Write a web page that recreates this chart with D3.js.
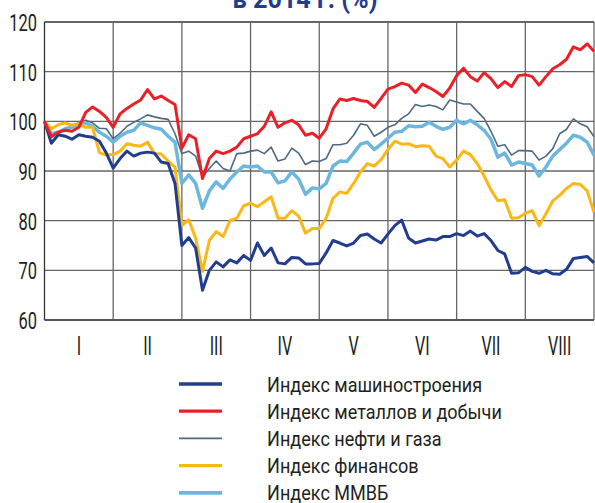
<!DOCTYPE html>
<html>
<head>
<meta charset="utf-8">
<script src="https://cdn.jsdelivr.net/npm/d3@7"></script>
<style>
  html, body { margin: 0; padding: 0; background: #fff; }
  svg { display: block; }
  text { font-family: Roboto, "Liberation Sans", sans-serif; }
</style>
</head>
<body>
<svg id="chart" width="595" height="503"></svg>
<script>
// months I..VIII, values sampled every 0.1 month (index = 100 at start of year)
const months = ["I", "II", "III", "IV", "V", "VI", "VII", "VIII"];
const yTicks = [60, 70, 80, 90, 100, 110, 120];
const STEP = 0.1;

const machine = [100, 95.6, 97.3, 97.0, 96.4, 97.3, 97.0, 96.8, 96.0, 93.6,
  90.6, 92.5, 94.0, 93.0, 93.6, 93.8, 93.6, 91.8, 91.5, 87.5,
  75.0, 76.6, 74.5, 66.0, 70.0, 71.7, 70.7, 72.1, 71.5, 73.0,
  72.0, 75.5, 73.0, 74.5, 71.5, 71.3, 72.6, 72.5, 71.3, 71.3,
  71.4, 73.5, 76.0, 75.5, 74.9, 75.5, 77.0, 77.3, 76.3, 75.5,
  77.3, 79.0, 80.1, 76.5, 75.5, 75.9, 76.3, 76.1, 76.8, 76.8,
  77.4, 77.0, 77.9, 76.9, 77.4, 76.0, 74.0, 73.3, 69.4, 69.5,
  70.6, 69.8, 69.4, 70.0, 69.3, 69.2, 70.2, 72.4, 72.6, 72.8, 71.5];

const metals = [100, 96.9, 97.8, 98.2, 98.0, 98.8, 101.8, 102.9, 102.0, 100.8,
  98.8, 101.5, 102.6, 103.5, 104.3, 106.4, 104.5, 105.1, 104.2, 103.4,
  94.6, 97.3, 96.5, 88.5, 92.5, 94.0, 93.5, 94.0, 94.8, 96.5,
  97.0, 97.5, 99.0, 101.9, 98.8, 99.7, 100.2, 99.3, 97.2, 97.6,
  96.6, 98.5, 102.5, 104.5, 104.2, 104.6, 104.2, 104.0, 102.8, 104.6,
  106.5, 107.0, 107.7, 107.3, 105.8, 107.5, 106.8, 106.0, 105.0, 106.7,
  109.2, 110.7, 109.0, 108.1, 109.8, 108.6, 106.8, 108.0, 107.0, 109.2,
  109.4, 109.0, 107.3, 109.0, 110.6, 111.4, 112.5, 115.0, 114.4, 115.6, 114.1];

const oilGas = [100, 97.5, 97.8, 98.2, 99.0, 99.6, 100.2, 99.7, 98.6, 98.5,
  96.5, 97.6, 99.0, 99.8, 100.5, 101.3, 100.9, 100.6, 100.4, 97.5,
  93.5, 94.0, 93.0, 88.8, 90.5, 92.0, 90.5, 90.0, 93.5, 93.6,
  94.0, 94.2, 93.5, 94.8, 92.0, 92.4, 94.6, 93.6, 91.3, 92.0,
  91.9, 92.5, 95.3, 95.3, 95.6, 97.2, 99.5, 99.2, 97.0, 97.8,
  98.8, 99.3, 100.6, 101.5, 103.4, 103.0, 103.3, 103.0, 102.3, 104.3,
  103.9, 103.5, 103.5, 102.0, 100.6, 98.0, 95.0, 95.3, 93.2, 94.1,
  94.1, 94.0, 92.2, 93.0, 94.5, 97.5, 98.4, 100.5, 99.5, 98.9, 96.9];

const finance = [100, 98.5, 99.3, 99.7, 99.2, 99.5, 98.8, 98.8, 93.7, 93.2,
  93.3, 94.0, 95.5, 95.2, 95.0, 95.8, 93.5, 93.4, 92.0, 90.8,
  79.0, 80.2, 76.5, 69.8, 76.0, 77.8, 76.8, 80.0, 80.5, 83.0,
  83.5, 82.8, 83.8, 84.8, 80.5, 80.5, 82.0, 80.9, 77.5, 78.4,
  78.4, 80.5, 84.5, 85.8, 85.5, 87.5, 89.8, 91.5, 91.0, 92.3,
  94.3, 96.0, 95.4, 95.5, 94.9, 95.1, 95.0, 93.0, 92.5, 90.8,
  92.2, 94.0, 93.3, 91.5, 89.0, 86.2, 84.0, 84.2, 80.5, 80.6,
  81.5, 82.0, 79.0, 81.4, 84.0, 85.1, 86.5, 87.5, 87.3, 86.0, 81.7];

const micex = [100, 97.5, 97.8, 98.5, 98.8, 99.5, 99.7, 99.0, 97.8, 97.0,
  95.8, 97.0, 97.8, 98.2, 99.7, 99.2, 98.7, 98.4, 97.0, 95.8,
  87.5, 89.2, 87.5, 82.5, 86.0, 87.8, 86.5, 88.4, 89.8, 91.0,
  90.8, 91.0, 89.8, 89.8, 87.6, 88.0, 89.8, 88.4, 85.3, 86.6,
  86.4, 87.5, 91.0, 92.0, 91.9, 93.6, 95.4, 95.8, 94.3, 95.4,
  96.6, 97.8, 98.0, 99.1, 98.9, 99.0, 99.8, 99.0, 98.4, 98.8,
  100.2, 99.5, 100.2, 99.3, 98.2, 96.4, 92.8, 93.6, 91.2, 91.8,
  91.5, 91.2, 89.0, 90.8, 93.0, 94.3, 95.6, 97.2, 96.8, 95.8, 93.2];

const seriesNames = ["Индекс машиностроения", "Индекс металлов и добычи",
  "Индекс нефти и газа", "Индекс финансов", "Индекс ММВБ"];
const seriesValues = [machine, metals, oilGas, finance, micex];
const seriesColors = ["#223d8e", "#ea2028", "#4d6a80", "#fbb713", "#6cb7dd"];
const seriesWidths = [3, 3, 1.6, 3, 3.5];
const drawOrder = [2, 4, 3, 0, 1];

const svg = d3.select("#chart");
const M = { top: 22, right: 1, bottom: 183, left: 44.5 };
const W = 595, H = 503;

const x = d3.scaleLinear().domain([0, months.length]).range([M.left, W - M.right]);
const y = d3.scaleLinear().domain([60, 120]).range([H - M.bottom, M.top]);

// narrow text: fonts here are not condensed, so squeeze horizontally
function narrow(sel, px, py, sx) {
  return sel.attr("transform", (d, i) => `translate(${px(d, i)},${py(d, i)}) scale(${sx},1)`);
}

// title (cut off at top of the page)
svg.append("text")
  .attr("transform", "translate(305,8) scale(0.9,1)")
  .attr("text-anchor", "middle")
  .attr("fill", "#223d8e")
  .style("font-size", "28px").style("font-weight", "bold")
  .text("в 2014 г. (%)");

// horizontal grid
svg.append("g").selectAll("line").data(yTicks.filter(d => d > 60))
  .join("line")
  .attr("x1", x(0)).attr("x2", x(months.length))
  .attr("y1", d => y(d)).attr("y2", d => y(d))
  .attr("stroke", d => d === 120 ? "#333" : "#666").attr("stroke-width", 1.3);

// vertical month grid
svg.append("g").selectAll("line").data(d3.range(0, months.length + 1))
  .join("line")
  .attr("x1", d => x(d)).attr("x2", d => x(d))
  .attr("y1", y(120)).attr("y2", y(60))
  .attr("stroke", d => d === 0 ? "#333" : "#666").attr("stroke-width", 1.3);

// bottom axis line
svg.append("line")
  .attr("x1", x(0)).attr("x2", x(months.length))
  .attr("y1", y(60)).attr("y2", y(60))
  .attr("stroke", "#555").attr("stroke-width", 2);

// y labels
svg.append("g").selectAll("text").data(yTicks)
  .join("text")
  .call(narrow, () => 37, d => y(d) + 9, 0.7)
  .attr("text-anchor", "end")
  .attr("fill", "#231f20")
  .style("font-size", "23.5px")
  .text(d => d);

// month labels
svg.append("g").selectAll("text").data(months)
  .join("text")
  .call(narrow, (d, i) => x(i + 0.5), () => y(60) + 35, 0.62)
  .attr("text-anchor", "middle")
  .attr("fill", "#231f20")
  .style("font-size", "26px")
  .text(d => d);

// series
const line = d3.line()
  .x((d, i) => x(i * STEP))
  .y(d => y(d));

svg.append("g").selectAll("path").data(drawOrder)
  .join("path")
  .attr("d", i => line(seriesValues[i]))
  .attr("fill", "none")
  .attr("stroke", i => seriesColors[i])
  .attr("stroke-width", i => seriesWidths[i])
  .attr("stroke-linejoin", "round");

// legend
const leg = svg.append("g").selectAll("g").data(seriesNames)
  .join("g")
  .attr("transform", (d, i) => `translate(0,${384 + i * 27.2})`);

leg.append("line")
  .attr("x1", 179).attr("x2", 222)
  .attr("stroke", (d, i) => seriesColors[i])
  .attr("stroke-width", (d, i) => seriesWidths[i] + 0.3);

leg.append("text")
  .call(narrow, () => 267, () => 7.5, 0.86)
  .attr("fill", "#231f20")
  .style("font-size", "21px")
  .text(d => d);
</script>
</body>
</html>
